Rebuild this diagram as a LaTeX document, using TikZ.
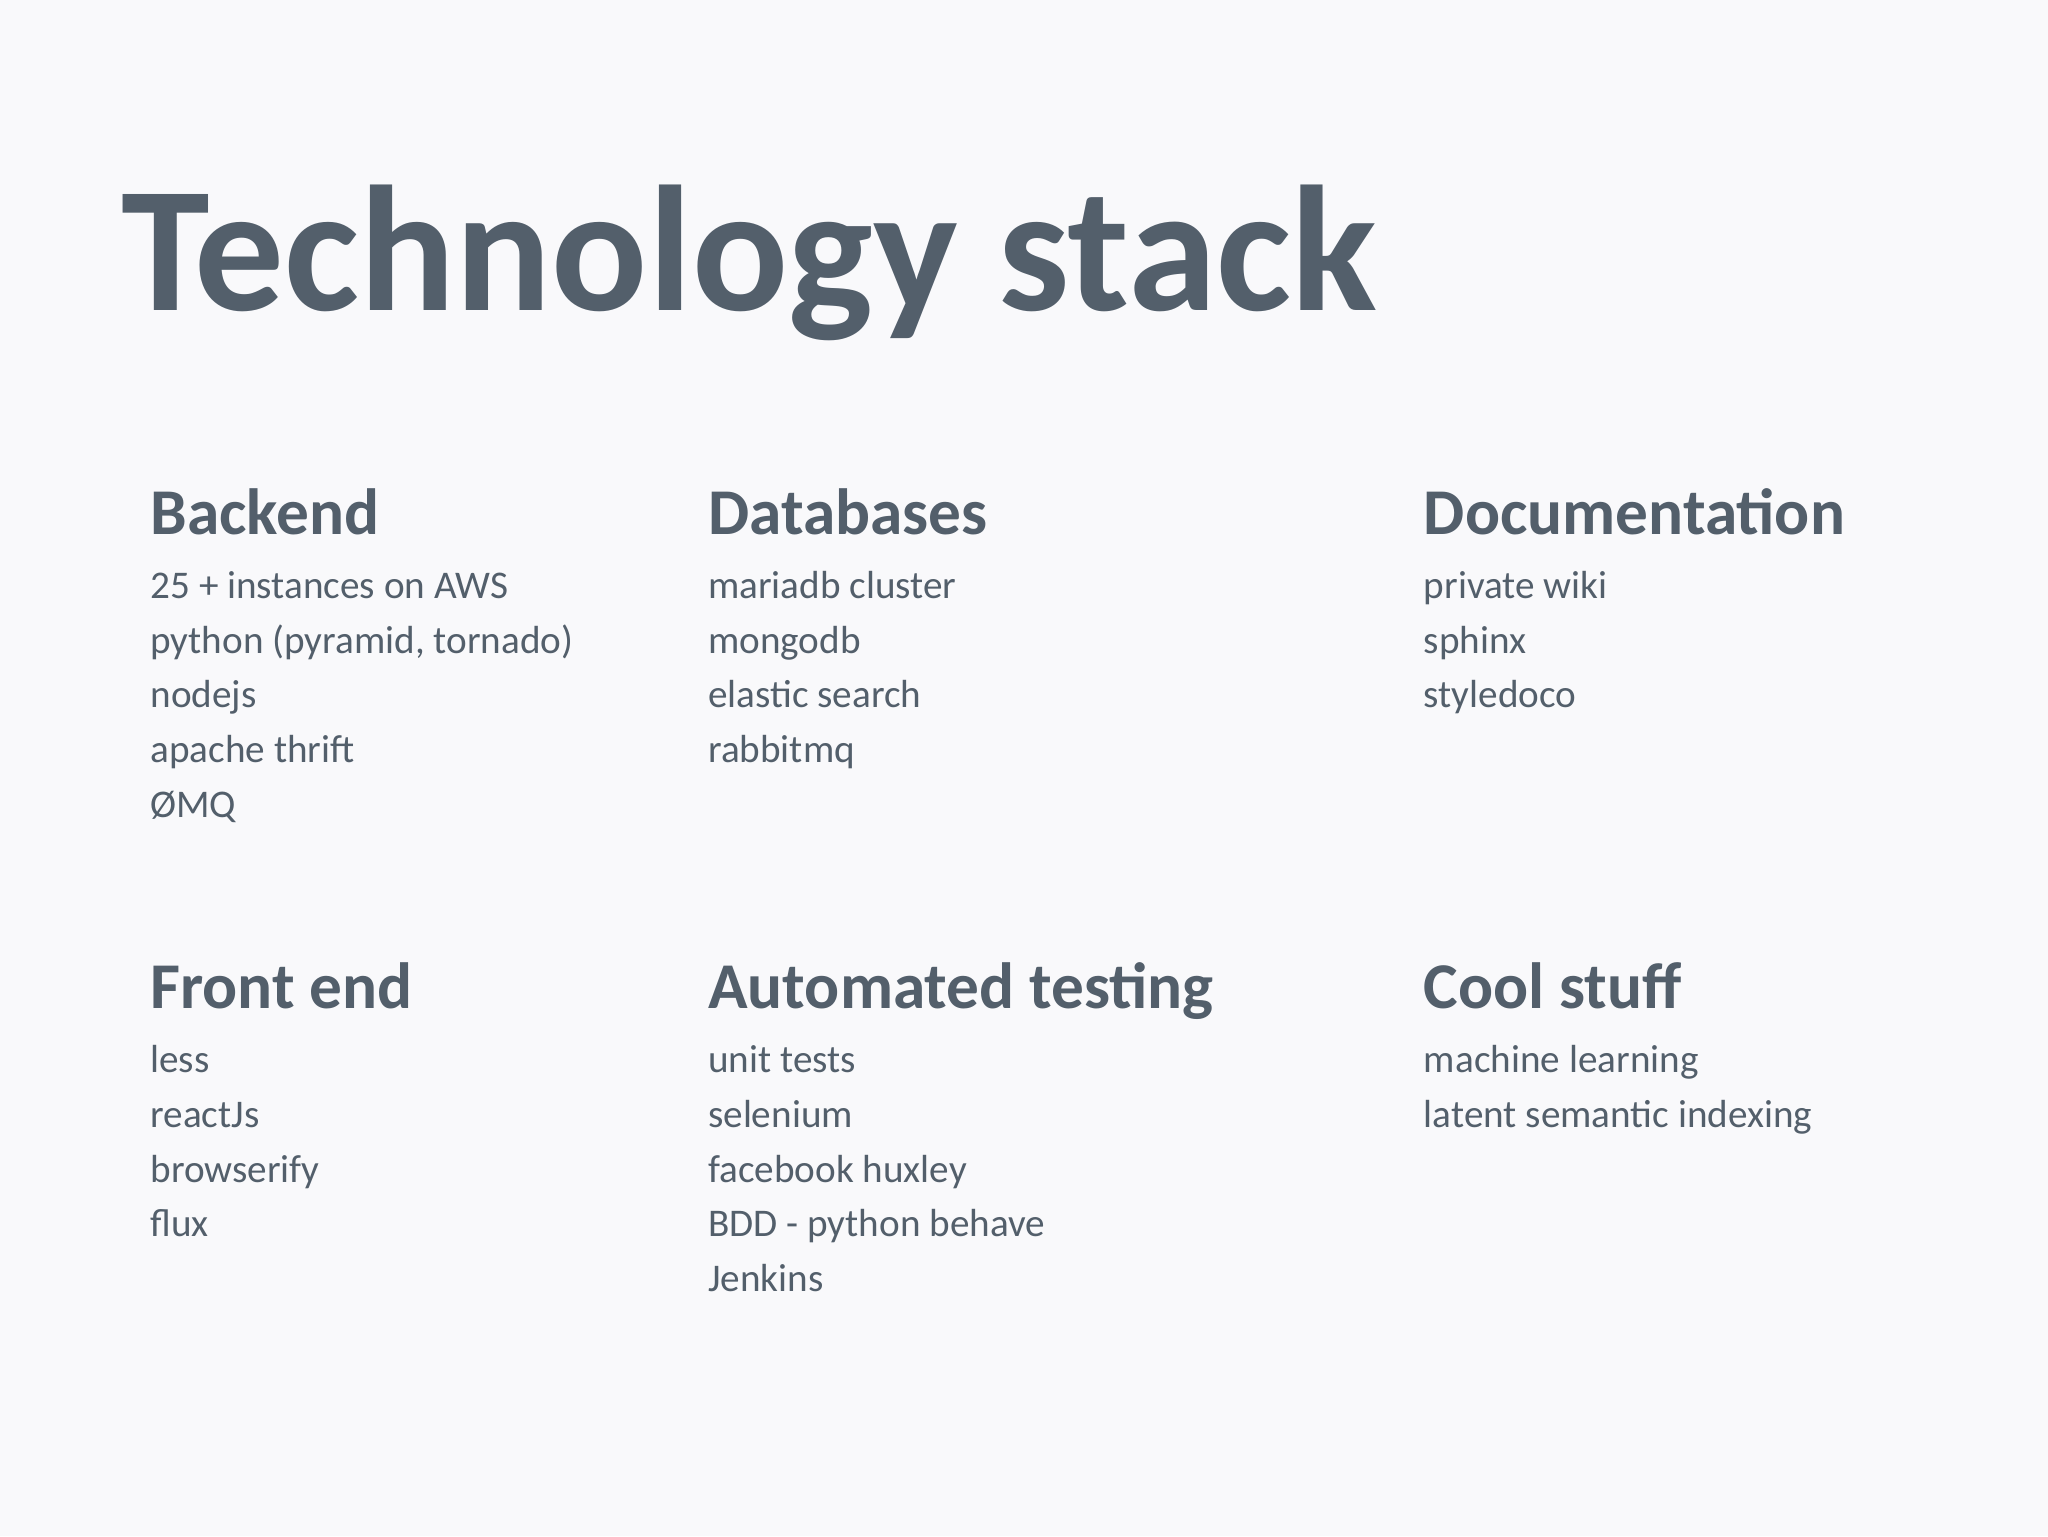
\documentclass[tikz,border=0pt]{standalone}
\usepackage{fontspec}
\setmainfont{Carlito}
\definecolor{ink}{HTML}{535F6B}
\definecolor{bg}{HTML}{F9F9FB}
\begin{document}
\begin{tikzpicture}[x=1pt,y=1pt,
  title/.style={anchor=base west,inner sep=0pt,text=ink,font=\fontsize{137}{137}\selectfont\bfseries},
  head/.style={anchor=base west,inner sep=0pt,text=ink,font=\fontsize{50}{50}\selectfont\bfseries},
  item/.style={anchor=base west,inner sep=0pt,text=ink,font=\fontsize{30}{30}\selectfont}]
\fill[bg] (0,0) rectangle (1568,1176);
\useasboundingbox (0,0) rectangle (1568,1176);
\node[title] (t) at (93,1176-238) {Technology stack};
% row 1
\node[head] (h1) at (115,1176-409) {Backend};
\node[item] (b1) at (115,1176-458) {25 + instances on AWS};
\node[item] (b2) at (115,1176-500) {python (pyramid, tornado)};
\node[item] (b3) at (115,1176-542) {nodejs};
\node[item] (b4) at (115,1176-584) {apache thrift};
\node[item] (b5) at (115,1176-626) {ØMQ};
\node[head] (h2) at (542,1176-409) {Databases};
\node[item] (d1) at (542,1176-458) {mariadb cluster};
\node[item] (d2) at (542,1176-500) {mongodb};
\node[item] (d3) at (542,1176-542) {elastic search};
\node[item] (d4) at (542,1176-584) {rabbitmq};
\node[head] (h3) at (1090,1176-409) {Documentation};
\node[item] (o1) at (1090,1176-458) {private wiki};
\node[item] (o2) at (1090,1176-500) {sphinx};
\node[item] (o3) at (1090,1176-542) {styledoco};
% row 2
\node[head] (h4) at (115,1176-772) {Front end};
\node[item] (f1) at (115,1176-821) {less};
\node[item] (f2) at (115,1176-863) {reactJs};
\node[item] (f3) at (115,1176-905) {browserify};
\node[item] (f4) at (115,1176-947) {flux};
\node[head] (h5) at (542,1176-772) {Automated testing};
\node[item] (a1) at (542,1176-821) {unit tests};
\node[item] (a2) at (542,1176-863) {selenium};
\node[item] (a3) at (542,1176-905) {facebook huxley};
\node[item] (a4) at (542,1176-947) {BDD - python behave};
\node[item] (a5) at (542,1176-989) {Jenkins};
\node[head] (h6) at (1090,1176-772) {Cool stuff};
\node[item] (c1) at (1090,1176-821) {machine learning};
\node[item] (c2) at (1090,1176-863) {latent semantic indexing};
\end{tikzpicture}
\end{document}
